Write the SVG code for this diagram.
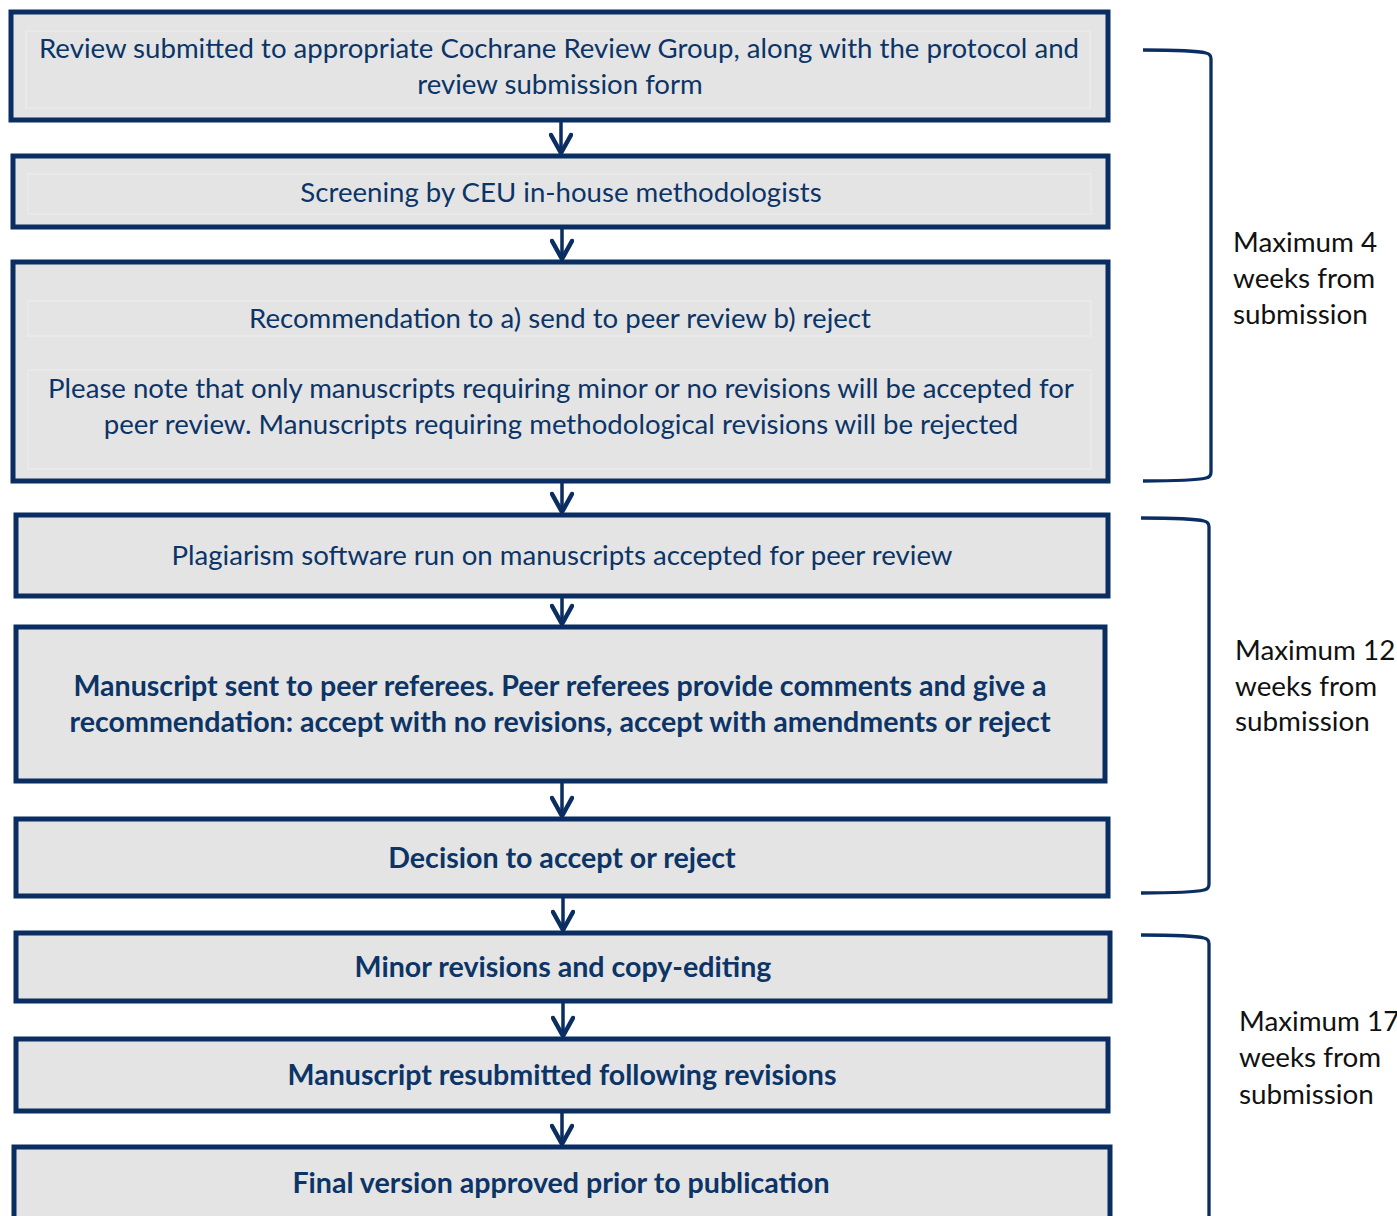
<svg xmlns="http://www.w3.org/2000/svg" width="1397" height="1216" viewBox="0 0 1397 1216">
<style>
.box{fill:#e4e4e4;stroke:#0a2d62;stroke-width:5}
.inner{fill:none;stroke:#ededed;stroke-width:1.2}
.t{font-family:Lato,"Open Sans","Liberation Sans",sans-serif;font-size:27.6px;fill:#0c3466;text-anchor:middle}
.b{font-weight:bold;font-size:28.6px}
.conn{stroke:#0a2d62;stroke-width:3.5;fill:none}
.brace{stroke:#0a2d62;stroke-width:3.3;fill:none}
.lab{font-family:Lato,"Open Sans","Liberation Sans",sans-serif;font-size:27.8px;fill:#111111}
</style>
<defs>
<marker id="chev" viewBox="-2 -12 26 24" refX="19" refY="0" markerWidth="26" markerHeight="24" markerUnits="userSpaceOnUse" orient="auto">
<path d="M1,-10 L19,0 L1,10" fill="none" stroke="#0a2d62" stroke-width="4.5" stroke-linecap="round" stroke-linejoin="round"/>
</marker>
</defs>
<rect width="1397" height="1216" fill="#ffffff"/>

<g id="n1">
<rect class="box" x="11" y="12" width="1097" height="108"/>
<rect class="inner" x="26" y="31" width="1064" height="77"/>
<text class="t" x="559" y="58">Review submitted to appropriate Cochrane Review Group, along with the protocol and</text>
<text class="t" x="560" y="94">review submission form</text>
</g>
<g id="n2">
<rect class="box" x="13" y="156" width="1095" height="71"/>
<rect class="inner" x="28" y="174" width="1063" height="40"/>
<text class="t" x="561" y="202">Screening by CEU in-house methodologists</text>
</g>
<g id="n3">
<rect class="box" x="13" y="262" width="1095" height="219"/>
<rect class="inner" x="28" y="301" width="1063" height="35"/>
<rect class="inner" x="28" y="370" width="1063" height="99"/>
<text class="t" x="560" y="328">Recommendation to a) send to peer review b) reject</text>
<text class="t" x="561" y="398">Please note that only manuscripts requiring minor or no revisions will be accepted for</text>
<text class="t" x="561" y="434">peer review. Manuscripts requiring methodological revisions will be rejected</text>
</g>
<g id="n4">
<rect class="box" x="16" y="515" width="1092" height="81"/>
<text class="t" x="562" y="565">Plagiarism software run on manuscripts accepted for peer review</text>
</g>
<g id="n5">
<rect class="box" x="16" y="627" width="1089" height="154"/>
<text class="t b" x="560" y="696">Manuscript sent to peer referees. Peer referees provide comments and give a</text>
<text class="t b" x="560" y="732">recommendation: accept with no revisions, accept with amendments or reject</text>
</g>
<g id="n6">
<rect class="box" x="16" y="819" width="1092" height="77"/>
<text class="t b" x="562" y="868">Decision to accept or reject</text>
</g>
<g id="n7">
<rect class="box" x="16" y="933" width="1094" height="68"/>
<text class="t b" x="563" y="977">Minor revisions and copy-editing</text>
</g>
<g id="n8">
<rect class="box" x="16" y="1039" width="1092" height="72"/>
<text class="t b" x="562" y="1085">Manuscript resubmitted following revisions</text>
</g>
<g id="n9">
<rect class="box" x="14" y="1147" width="1096" height="90"/>
<text class="t b" x="561" y="1193">Final version approved prior to publication</text>
</g>

<g id="connectors">
<path class="conn" d="M561,122 L561,153" marker-end="url(#chev)"/>
<path class="conn" d="M562,229 L562,259" marker-end="url(#chev)"/>
<path class="conn" d="M562,483 L562,512" marker-end="url(#chev)"/>
<path class="conn" d="M562,598 L562,624" marker-end="url(#chev)"/>
<path class="conn" d="M562,783 L562,816" marker-end="url(#chev)"/>
<path class="conn" d="M563,898 L563,930" marker-end="url(#chev)"/>
<path class="conn" d="M563,1003 L563,1036" marker-end="url(#chev)"/>
<path class="conn" d="M562,1113 L562,1144" marker-end="url(#chev)"/>
</g>

<g id="brace1">
<path class="brace" d="M1143,50 C1175,50 1198,51 1206,53 Q1211,54 1211,59 L1211,472 Q1211,477 1206,478 C1198,480 1175,481 1143,481"/>
<text class="lab" x="1233" y="252">Maximum 4</text>
<text class="lab" x="1233" y="288">weeks from</text>
<text class="lab" x="1233" y="324">submission</text>
</g>
<g id="brace2">
<path class="brace" d="M1141,518 C1173,518 1196,519 1204,521 Q1209,522 1209,527 L1209,884 Q1209,889 1204,890 C1196,892 1173,893 1141,893"/>
<text class="lab" x="1235" y="660">Maximum 12</text>
<text class="lab" x="1235" y="696">weeks from</text>
<text class="lab" x="1235" y="731">submission</text>
</g>
<g id="brace3">
<path class="brace" d="M1141,935 C1173,935 1196,936 1204,938 Q1209,939 1209,944 L1209,1220"/>
<text class="lab" x="1239" y="1031">Maximum 17</text>
<text class="lab" x="1239" y="1067">weeks from</text>
<text class="lab" x="1239" y="1104">submission</text>
</g>
</svg>
